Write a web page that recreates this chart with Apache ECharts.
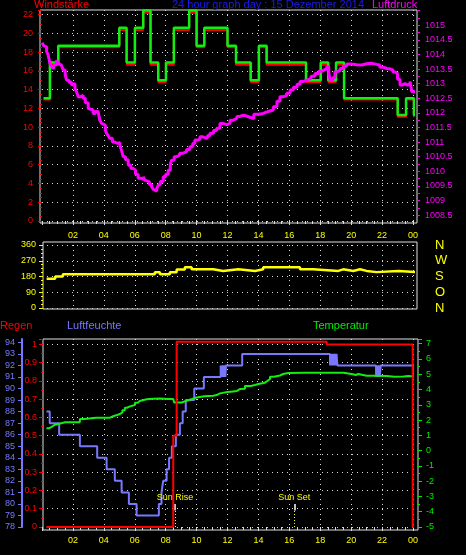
<!DOCTYPE html>
<html><head><meta charset="utf-8">
<script src="https://cdn.jsdelivr.net/npm/echarts@6/dist/echarts.min.js"></script>
<style>html,body{margin:0;padding:0;background:#000;}#c{width:466px;height:555px;}</style>
</head><body><div id="c"></div>
<script>
// ---------- data ----------
const hourTicks = [2,4,6,8,10,12,14,16,18,20,22,24];
const hourLabels = ['02','04','06','08','10','12','14','16','18','20','22','00'];

// wind speed (km/h), [hour, value], step
const windAvg = [[0.1,12.96],[0.53,16.67],[1.07,18.52],[5.0,20.37],[5.5,16.67],[6.01,20.37],[6.55,22.22],[7.02,16.67],[7.52,14.82],[8.02,16.67],[8.53,20.37],[9.52,22.22],[10.0,18.52],[10.5,20.37],[12.0,18.52],[12.55,16.67],[13.5,14.82],[14.03,18.52],[14.53,16.67],[17.08,14.82],[18.03,16.67],[18.52,14.82],[19.02,16.67],[19.54,12.96],[23.01,11.11],[23.55,12.96],[24.06,11.11],[24.15,11.11]];
const windGust = [[0.1,13.1],[0.51,16.9],[1.05,18.7],[5.0,20.6],[5.47,16.9],[6.01,20.6],[6.55,22.45],[7.02,16.9],[7.52,15.0],[8.02,16.9],[8.53,20.6],[9.52,22.45],[10.0,18.7],[10.5,20.6],[12.0,18.7],[12.55,16.9],[13.5,15.0],[14.03,18.7],[14.53,16.9],[17.08,15.0],[18.03,16.9],[18.52,15.0],[19.02,16.9],[19.54,13.1],[23.01,11.3],[23.55,13.1],[24.06,11.3],[24.15,11.3]];

// air pressure (hPa)
const pressure = [[0.01,1014.4],[0.1,1014.3],[0.18,1014.26],[0.3,1014.1],[0.4,1013.98],[0.51,1013.7],[0.6,1013.6],[0.72,1013.52],[0.8,1013.65],[0.94,1013.8],[1.05,1013.7],[1.15,1013.64],[1.25,1013.6],[1.37,1013.47],[1.5,1013.3],[1.59,1013.12],[1.75,1013.05],[1.91,1012.95],[2.0,1013.0],[2.13,1012.84],[2.25,1012.7],[2.34,1012.55],[2.5,1012.6],[2.66,1012.5],[2.8,1012.35],[2.99,1012.15],[3.1,1012.1],[3.31,1011.98],[3.45,1012.05],[3.63,1012.0],[3.74,1011.75],[3.85,1011.64],[3.96,1011.58],[4.1,1011.4],[4.18,1011.3],[4.3,1011.2],[4.39,1011.13],[4.55,1011.0],[4.71,1010.96],[4.85,1010.98],[5.04,1010.9],[5.15,1010.7],[5.25,1010.5],[5.4,1010.4],[5.58,1010.21],[5.75,1010.1],[5.9,1010.04],[6.05,1009.9],[6.22,1009.76],[6.4,1009.72],[6.55,1009.81],[6.65,1009.7],[6.77,1009.64],[6.95,1009.55],[7.09,1009.47],[7.2,1009.38],[7.3,1009.32],[7.42,1009.4],[7.52,1009.53],[7.65,1009.65],[7.84,1009.81],[8.0,1009.9],[8.16,1010.04],[8.3,1010.25],[8.38,1010.38],[8.55,1010.5],[8.71,1010.55],[8.9,1010.62],[9.14,1010.67],[9.35,1010.75],[9.57,1010.84],[9.75,1010.95],[9.89,1011.07],[10.05,1011.1],[10.22,1011.18],[10.4,1011.15],[10.54,1011.13],[10.7,1011.22],[10.86,1011.3],[11.1,1011.4],[11.3,1011.47],[11.51,1011.64],[11.7,1011.6],[11.94,1011.64],[12.16,1011.75],[12.37,1011.81],[12.6,1011.88],[12.8,1011.92],[13.02,1011.9],[13.2,1011.85],[13.45,1011.8],[13.7,1011.95],[14.0,1011.98],[14.31,1012.04],[14.6,1012.1],[14.96,1012.21],[15.2,1012.4],[15.39,1012.55],[15.6,1012.6],[15.83,1012.67],[16.05,1012.78],[16.26,1012.88],[16.5,1012.98],[16.69,1013.07],[16.9,1013.12],[17.12,1013.18],[17.4,1013.25],[17.66,1013.35],[17.9,1013.42],[18.09,1013.47],[18.25,1013.5],[18.42,1013.58],[18.55,1013.4],[18.63,1013.12],[18.8,1013.2],[18.95,1013.41],[19.1,1013.45],[19.28,1013.52],[19.5,1013.6],[19.71,1013.67],[20.0,1013.65],[20.36,1013.64],[20.7,1013.68],[21.0,1013.7],[21.3,1013.66],[21.65,1013.64],[21.85,1013.56],[22.08,1013.52],[22.3,1013.5],[22.51,1013.47],[22.7,1013.4],[22.84,1013.35],[23.0,1013.15],[23.16,1012.95],[23.3,1013.0],[23.48,1012.95],[23.65,1013.0],[23.81,1013.07],[23.92,1012.72],[24.13,1012.67]];
const pressureLabelValues = [1008.5,1009,1009.5,1010,1010.5,1011,1011.5,1012,1012.5,1013,1013.5,1014,1014.5,1015];
const pressureTickValues = [1008.5,1008.75,1009,1009.25,1009.5,1009.75,1010,1010.25,1010.5,1010.75,1011,1011.25,1011.5,1011.75,1012,1012.25,1012.5,1012.75,1013,1013.25,1013.5,1013.75,1014,1014.25,1014.5,1014.75,1015,1015.25,1015.5];

// wind direction (degrees), step
const windDir = [[0.3,167],[0.85,180],[1.35,193],[7.3,205],[7.63,193],[8.27,205],[8.71,220],[9.24,233],[9.68,221],[11.08,211],[11.72,221],[12.7,212],[13.78,221],[14.31,233],[16.69,221],[17.55,212],[19.17,221],[19.49,211],[20.14,221],[20.57,212],[21.0,205],[21.65,212],[23.05,205],[24.13,205]];
const dirLabels = ['N','O','S','W','N'];

// rain (mm), step
const rain = [[0.29,0],[8.49,0.5],[8.71,1.015],[18.42,1.0],[23.98,0],[24.13,0]];
// humidity (%), step
const humidity = [[0.29,88],[0.5,87],[1.11,86],[2.45,85],[3.57,84],[4.18,83],[4.71,82],[5.15,81],[5.62,80],[6.12,79],[7.56,80],[7.73,81],[7.84,82],[8.06,83],[8.22,84],[8.4,85],[8.66,86],[8.92,87],[9.1,88],[9.3,89],[9.85,90],[10.47,91],[11.56,92],[11.62,91],[11.68,92],[11.74,91],[11.8,92],[11.86,91],[11.9,92],[12.95,93],[18.63,92],[18.69,93],[18.75,92],[18.81,93],[18.87,92],[18.93,93],[18.99,92],[19.05,93],[19.11,92],[21.61,91],[21.67,92],[21.73,91],[21.79,92],[21.85,91],[21.91,92],[24.07,91],[24.15,91]];
// temperature (°C)
const temperature = [[0.29,1.46],[0.45,1.55],[0.62,1.68],[0.8,1.75],[1.05,1.86],[1.5,1.86],[2.23,1.86],[2.45,2.07],[2.77,2.16],[3.5,2.16],[4.18,2.16],[4.4,2.25],[4.6,2.33],[4.85,2.4],[5.04,2.51],[5.2,2.65],[5.36,2.81],[5.5,2.9],[5.69,2.99],[6.01,3.14],[6.2,3.25],[6.33,3.36],[6.77,3.4],[7.2,3.42],[7.63,3.38],[8.2,3.38],[8.49,3.36],[8.55,3.15],[8.8,3.15],[9.03,3.27],[9.36,3.38],[9.7,3.48],[10.0,3.56],[10.5,3.6],[11.08,3.64],[11.3,3.75],[11.51,3.84],[12.0,3.88],[12.37,3.9],[12.59,4.03],[12.8,4.05],[13.13,4.23],[13.5,4.3],[13.78,4.36],[14.0,4.45],[14.42,4.58],[14.6,4.7],[14.75,4.84],[15.0,4.92],[15.39,5.02],[15.6,5.08],[15.93,5.1],[17.0,5.1],[18.0,5.1],[19.17,5.1],[19.5,5.05],[19.82,5.0],[20.1,4.95],[20.3,5.02],[20.46,4.91],[21.0,4.9],[21.5,4.88],[22.3,4.84],[22.8,4.86],[23.38,4.88],[23.7,4.85],[24.13,4.84]];

const sunLabels = ['Sun Rise','Sun Set'];
const sunTimes = [8.6, 16.32];

// ---------- chart ----------
const FONT = '"Liberation Sans", Arial, sans-serif';
const DOT = {color:'#d8d8d8', type:[1,4], width:1};
const hourFmt = v => { const i = hourTicks.indexOf(v); return i < 0 ? '' : hourLabels[i]; };

function xAx(grid, pos, offset, showLabel, showTick, margin){
  return {type:'value', gridIndex:grid, min:0, max:24, interval:2, position:pos, offset:offset,
    axisLine:{show:false},
    axisTick:{show:showTick, length:4, lineStyle:{color:'#ddd'}},
    minorTick:{show:showTick, splitNumber:4, length:3, lineStyle:{color:'#ddd'}},
    axisLabel:{show:showLabel, color:'#ffff00', fontSize:9, fontFamily:FONT, margin:margin, formatter:hourFmt},
    splitLine:{show:true, showMinLine:false, lineStyle:DOT}};
}

const chart = echarts.init(document.getElementById('c'), null, {renderer:'canvas'});
const tStyle = (c) => ({color:c, fontSize:11, fontWeight:'normal', fontFamily:FONT});
chart.setOption({
  backgroundColor:'#000',
  animation:false,
  title:[
    {text:'Windstärke', left:34, top:-1, padding:0, textStyle:tStyle('#ff0000')},
    {text:'24 hour graph day : 15 Dezember 2014', left:172, top:-1, padding:0, textStyle:tStyle('#1a1aee')},
    {text:'Luftdruck', left:372, top:-1, padding:0, textStyle:tStyle('#ff00ff')},
    {text:'Regen', left:0, top:320, padding:0, textStyle:tStyle('#ff0000')},
    {text:'Luftfeuchte', left:67, top:320, padding:0, textStyle:tStyle('#7878ff')},
    {text:'Temperatur', left:313, top:320, padding:0, textStyle:tStyle('#00ee00')}
  ],
  grid:[
    {left:42, top:10, width:371, height:211, show:false},
    {left:42, top:245, width:371, height:63, show:false},
    {left:42, top:339, width:371, height:188, show:false},
    {left:40, top:10, width:377, height:213, show:true, borderColor:'#e0e0e0', borderWidth:1, backgroundColor:'transparent'},
    {left:43, top:242, width:374, height:67, show:true, borderColor:'#e0e0e0', borderWidth:1, backgroundColor:'transparent'},
    {left:43, top:339, width:375, height:191, show:true, borderColor:'#e0e0e0', borderWidth:1, backgroundColor:'transparent'}
  ],
  xAxis:[
    xAx(0,'bottom',2,true,true,8),
    xAx(1,'top',3,false,false,3),
    xAx(2,'bottom',3,true,true,6)
  ],
  yAxis:[
    {type:'value', gridIndex:0, position:'left', offset:2, min:0, max:22.5, interval:2,
     axisLine:{show:false}, axisTick:{show:true, length:4, lineStyle:{color:'#ff0000'}},
     minorTick:{show:true, splitNumber:4, length:2, lineStyle:{color:'#ff0000'}},
     axisLabel:{color:'#ff0000', fontSize:9, fontFamily:FONT, margin:7, showMaxLabel:false},
     splitLine:{show:true, showMaxLine:false, lineStyle:DOT}},
    {type:'value', gridIndex:0, position:'right', offset:4, min:1008.3, max:1015.52,
     axisLine:{show:false},
     axisTick:{show:true, length:3, customValues:pressureTickValues, lineStyle:{color:'#ff00ff'}},
     axisLabel:{color:'#ff00ff', fontSize:9, fontFamily:FONT, margin:8, customValues:pressureLabelValues, formatter:v=>String(v)},
     splitLine:{show:false}},
    {type:'value', gridIndex:1, position:'left', offset:-1, min:0, max:360, interval:90,
     axisLine:{show:false}, axisTick:{show:true, length:4, lineStyle:{color:'#ffff00'}},
     minorTick:{show:true, splitNumber:4, length:2, lineStyle:{color:'#ffff00'}},
     axisLabel:{color:'#ffff00', fontSize:9, fontFamily:FONT, margin:7},
     splitLine:{show:true, lineStyle:DOT}},
    {type:'value', gridIndex:1, position:'right', offset:4, min:0, max:360, interval:90,
     axisLine:{show:false}, axisTick:{show:false},
     axisLabel:{color:'#ffff00', fontSize:13, fontFamily:FONT, margin:18, formatter:v=>dirLabels[Math.round(v/90)]},
     splitLine:{show:false}},
    {type:'value', gridIndex:2, position:'left', offset:-1, min:0, max:1.03, interval:0.1,
     axisLine:{show:false}, axisTick:{show:true, length:4, lineStyle:{color:'#ff0000'}},
     minorTick:{show:true, splitNumber:2, length:2, lineStyle:{color:'#ff0000'}},
     axisLabel:{color:'#ff0000', fontSize:9, fontFamily:FONT, margin:6, showMaxLabel:false, formatter:v=>String(+v.toFixed(2))},
     splitLine:{show:true, showMaxLine:false, lineStyle:DOT}},
    {type:'value', gridIndex:2, position:'left', offset:20, min:78, max:94.29, interval:1,
     axisLine:{show:true, lineStyle:{color:'#7878ff', width:2}}, axisTick:{show:true, length:4, lineStyle:{color:'#7878ff'}},
     axisLabel:{color:'#7878ff', fontSize:9, fontFamily:FONT, margin:7, showMaxLabel:false},
     splitLine:{show:false}},
    {type:'value', gridIndex:2, position:'right', offset:5, min:-5, max:7.31, interval:1,
     axisLine:{show:false}, axisTick:{show:true, length:4, lineStyle:{color:'#00ee00'}},
     minorTick:{show:true, splitNumber:2, length:2, lineStyle:{color:'#00ee00'}},
     axisLabel:{color:'#00ee00', fontSize:9, fontFamily:FONT, margin:8, showMaxLabel:false},
     splitLine:{show:false}}
  ],
  series:[
    {name:'WindAvg', type:'line', xAxisIndex:0, yAxisIndex:0, step:'end', data:windAvg, showSymbol:false, lineStyle:{color:'#ff0000', width:2}, z:3},
    {name:'WindGust', type:'line', xAxisIndex:0, yAxisIndex:0, step:'end', data:windGust, showSymbol:false, lineStyle:{color:'#11ee11', width:2.5}, z:4},
    {name:'Luftdruck', type:'line', xAxisIndex:0, yAxisIndex:1, step:'end', data:pressure, showSymbol:false, lineStyle:{color:'#ff00ff', width:3}, z:5},
    {name:'Richtung', type:'line', xAxisIndex:1, yAxisIndex:2, step:'end', data:windDir, showSymbol:false, lineStyle:{color:'#ffff00', width:2.5}, z:3},
    {name:'Luftfeuchte', type:'line', xAxisIndex:2, yAxisIndex:5, step:'end', data:humidity, showSymbol:false, lineStyle:{color:'#7878ff', width:2}, z:3},
    {name:'Temperatur', type:'line', xAxisIndex:2, yAxisIndex:6, step:'end', data:temperature, showSymbol:false, lineStyle:{color:'#11ee11', width:2}, z:4},
    {name:'Regen', type:'line', xAxisIndex:2, yAxisIndex:4, step:'end', data:rain, showSymbol:false, lineStyle:{color:'#ff0000', width:2}, z:5,
     markLine:{silent:true, symbol:'none', animation:false, label:{show:false},
       data: sunTimes.flatMap((t,i)=>[
         [{coord:[t,0], lineStyle:{color:'#ffff00', type:[1,2], width:1}}, {coord:[t,0.09]}],
         [{coord:[t,0.09], lineStyle:{color:'#ffffff', type:'solid', width:1.5},
           label:{show:true, position:'end', distance:2, formatter:sunLabels[i], color:'#ffff00', fontSize:9, fontFamily:FONT}},
          {coord:[t,0.126]}]
       ])}}
  ]
});
</script></body></html>
